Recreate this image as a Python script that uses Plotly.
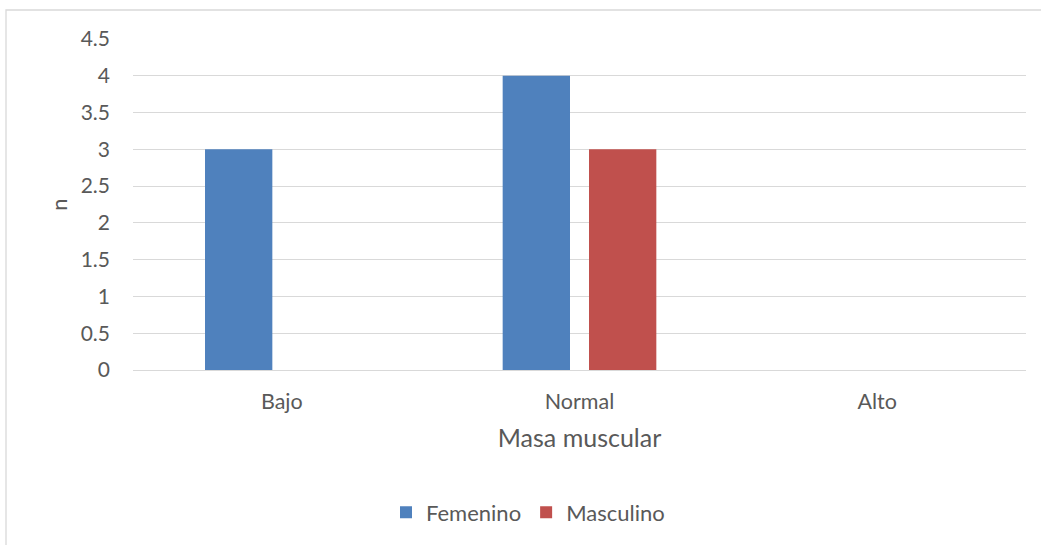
import plotly.graph_objects as go

# Category and series data
categories = ["Bajo", "Normal", "Alto"]
femenino = [3, 4, 0]
masculino = [0, 3, 0]
y_ticks = [0, 0.5, 1, 1.5, 2, 2.5, 3, 3.5, 4, 4.5]
y_tick_labels = ["0", "0.5", "1", "1.5", "2", "2.5", "3", "3.5", "4", "4.5"]

FONT = "Lato, 'Open Sans', sans-serif"
TEXT = "#595959"

fig = go.Figure()
fig.add_trace(go.Bar(name="Femenino", x=categories, y=femenino, marker_color="#4F81BD",
                     marker_line_width=0))
fig.add_trace(go.Bar(name="Masculino", x=categories, y=masculino, marker_color="#C0504D",
                     marker_line_width=0))

W, H = 1041, 545
L, R, T, B = 133, 15, 39, 175
PW = W - L - R

fig.update_layout(
    width=W, height=H,
    margin=dict(l=L, r=R, t=T, b=B),
    paper_bgcolor="white", plot_bgcolor="white",
    barmode="group", bargap=0.42, bargroupgap=0.22,
    font=dict(family=FONT, color=TEXT, size=21),
    showlegend=True,
    legend=dict(orientation="h", x=(386 - L) / PW, xanchor="left", y=-0.43, yanchor="middle",
                font=dict(size=22, color=TEXT), itemwidth=30, traceorder="normal"),
    xaxis=dict(showgrid=False, showline=False, ticks="", tickfont=dict(size=21.5, color=TEXT),
               ticklabelstandoff=16,
               title=dict(text="Masa muscular", font=dict(size=25, color=TEXT), standoff=16)),
    yaxis=dict(range=[0, 4.5], tickvals=y_ticks, ticktext=y_tick_labels,
               showgrid=True, gridcolor="#D9D9D9", gridwidth=1.3,
               zeroline=True, zerolinecolor="#D9D9D9", zerolinewidth=1.3,
               showline=False, ticks="", ticklabelstandoff=22,
               tickfont=dict(size=21, color=TEXT),
               title=dict(text="n", font=dict(size=22, color=TEXT), standoff=6)),
    shapes=[dict(type="rect", xref="paper", yref="paper",
                 x0=(6 - L) / PW, x1=(W + 5 - L) / PW,
                 y0=(H - B - H - 5) / (H - T - B), y1=(H - B - 10) / (H - T - B),
                 line=dict(color="#D9D9D9", width=1.3), fillcolor="rgba(0,0,0,0)", layer="below")],
)

fig.write_html("out.html")
